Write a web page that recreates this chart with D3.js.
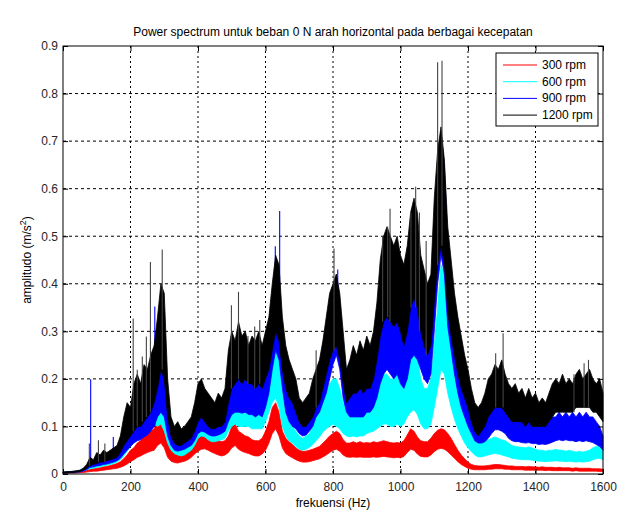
<!DOCTYPE html>
<html>
<head>
<meta charset="utf-8">
<script src="https://cdn.jsdelivr.net/npm/d3@7"></script>
<style>
  body { margin: 0; background: #fff; }
  text { font-family: "Liberation Sans", Arial, sans-serif; }
</style>
</head>
<body>
<div id="viz-container"></div>
<script>
// spectrum, every 10 Hz from 0 to 1600
// (hi = top of the noisy band, lo = bottom of it)
let freq = d3.range(0, 1601, 10);

let rpm300hi = [
  0.003,0.003,0.004,0.004,0.005,0.005,0.006,0.008,0.01,0.011,
  0.012,0.013,0.015,0.016,0.018,0.02,0.022,0.026,0.032,0.04,
  0.05,0.055,0.065,0.07,0.08,0.085,0.09,0.095,0.11,0.12,
  0.1,0.065,0.05,0.045,0.045,0.048,0.05,0.055,0.065,0.075,
  0.085,0.09,0.092,0.085,0.08,0.075,0.07,0.068,0.07,0.08,
  0.1,0.105,0.09,0.085,0.08,0.078,0.072,0.07,0.07,0.075,
  0.09,0.11,0.14,0.15,0.13,0.09,0.075,0.068,0.062,0.055,
  0.05,0.048,0.048,0.05,0.052,0.055,0.058,0.065,0.072,0.08,
  0.085,0.09,0.085,0.072,0.065,0.065,0.068,0.065,0.068,0.065,
  0.066,0.065,0.068,0.066,0.068,0.07,0.068,0.066,0.065,0.066,
  0.065,0.07,0.082,0.095,0.09,0.078,0.07,0.068,0.068,0.075,
  0.085,0.092,0.095,0.093,0.085,0.075,0.062,0.05,0.04,0.032,
  0.025,0.02,0.018,0.017,0.017,0.017,0.018,0.019,0.02,0.02,
  0.019,0.018,0.017,0.017,0.016,0.016,0.016,0.015,0.016,0.015,
  0.015,0.014,0.015,0.014,0.014,0.014,0.013,0.014,0.013,0.013,
  0.013,0.012,0.013,0.012,0.012,0.012,0.012,0.011,0.011,0.011,
  0.01];
let rpm300lo = [
  0.001,0.001,0.002,0.002,0.002,0.003,0.003,0.004,0.005,0.006,
  0.006,0.007,0.008,0.009,0.01,0.011,0.012,0.014,0.017,0.021,
  0.026,0.03,0.035,0.038,0.042,0.045,0.048,0.05,0.06,0.065,
  0.055,0.035,0.027,0.024,0.023,0.025,0.027,0.03,0.035,0.042,
  0.048,0.052,0.053,0.05,0.046,0.043,0.04,0.038,0.04,0.045,
  0.055,0.06,0.052,0.048,0.045,0.043,0.04,0.038,0.038,0.042,
  0.05,0.065,0.085,0.095,0.08,0.055,0.043,0.038,0.034,0.03,
  0.027,0.025,0.025,0.026,0.028,0.03,0.032,0.036,0.04,0.045,
  0.05,0.052,0.048,0.04,0.036,0.035,0.036,0.035,0.036,0.035,
  0.035,0.035,0.036,0.035,0.036,0.037,0.036,0.035,0.034,0.035,
  0.034,0.037,0.045,0.052,0.05,0.042,0.037,0.036,0.036,0.04,
  0.047,0.052,0.054,0.052,0.047,0.04,0.033,0.026,0.02,0.016,
  0.012,0.01,0.009,0.009,0.009,0.009,0.01,0.01,0.011,0.011,
  0.011,0.01,0.01,0.009,0.009,0.009,0.009,0.008,0.008,0.008,
  0.008,0.008,0.008,0.007,0.008,0.007,0.007,0.007,0.007,0.007,
  0.007,0.006,0.007,0.006,0.006,0.006,0.006,0.006,0.006,0.005,
  0.005];

let rpm600hi = [
  0.004,0.004,0.005,0.005,0.006,0.008,0.012,0.015,0.02,0.022,
  0.025,0.026,0.03,0.03,0.035,0.04,0.045,0.055,0.07,0.09,
  0.11,0.13,0.16,0.15,0.19,0.18,0.2,0.21,0.2,0.21,
  0.18,0.12,0.09,0.075,0.07,0.065,0.07,0.075,0.08,0.1,
  0.12,0.13,0.12,0.11,0.1,0.1,0.105,0.11,0.11,0.14,
  0.16,0.17,0.16,0.17,0.16,0.16,0.15,0.15,0.15,0.15,
  0.17,0.22,0.27,0.28,0.24,0.17,0.13,0.11,0.1,0.09,
  0.08,0.075,0.08,0.085,0.1,0.12,0.13,0.15,0.17,0.19,
  0.2,0.2,0.18,0.15,0.14,0.15,0.16,0.15,0.16,0.16,
  0.17,0.17,0.18,0.19,0.2,0.21,0.21,0.2,0.2,0.21,
  0.2,0.21,0.24,0.26,0.27,0.25,0.2,0.18,0.18,0.2,
  0.27,0.35,0.44,0.42,0.32,0.27,0.22,0.18,0.15,0.12,
  0.1,0.085,0.075,0.065,0.065,0.07,0.072,0.075,0.078,0.075,
  0.072,0.07,0.065,0.06,0.058,0.057,0.056,0.055,0.057,0.055,
  0.052,0.05,0.05,0.048,0.05,0.05,0.052,0.05,0.05,0.048,
  0.05,0.048,0.046,0.048,0.046,0.048,0.05,0.055,0.058,0.06,
  0.055];
let rpm600lo = [
  0.002,0.002,0.003,0.003,0.004,0.005,0.007,0.009,0.011,0.012,
  0.014,0.015,0.017,0.018,0.02,0.022,0.025,0.03,0.038,0.048,
  0.058,0.068,0.08,0.082,0.09,0.095,0.1,0.105,0.1,0.105,
  0.09,0.065,0.05,0.043,0.04,0.038,0.04,0.045,0.05,0.06,
  0.075,0.08,0.078,0.072,0.068,0.068,0.07,0.072,0.075,0.09,
  0.1,0.105,0.1,0.1,0.1,0.1,0.095,0.095,0.095,0.095,
  0.11,0.13,0.15,0.16,0.14,0.1,0.08,0.07,0.065,0.058,
  0.052,0.05,0.052,0.056,0.062,0.07,0.078,0.088,0.095,0.1,
  0.105,0.1,0.095,0.085,0.08,0.078,0.08,0.078,0.08,0.08,
  0.085,0.088,0.09,0.095,0.1,0.105,0.105,0.1,0.1,0.105,
  0.1,0.105,0.12,0.13,0.135,0.125,0.105,0.095,0.095,0.105,
  0.14,0.18,0.22,0.21,0.17,0.14,0.115,0.095,0.08,0.065,
  0.055,0.047,0.04,0.036,0.036,0.038,0.04,0.042,0.043,0.042,
  0.04,0.038,0.036,0.033,0.032,0.031,0.03,0.03,0.03,0.029,
  0.028,0.027,0.027,0.026,0.027,0.027,0.028,0.027,0.027,0.026,
  0.027,0.026,0.025,0.026,0.025,0.026,0.027,0.03,0.032,0.033,
  0.03];

let rpm900hi = [
  0.004,0.004,0.005,0.005,0.006,0.007,0.01,0.015,0.03,0.025,
  0.03,0.03,0.035,0.035,0.04,0.045,0.05,0.06,0.08,0.1,
  0.11,0.14,0.15,0.14,0.17,0.16,0.2,0.24,0.28,0.3,
  0.26,0.15,0.1,0.085,0.08,0.08,0.085,0.09,0.1,0.13,
  0.17,0.18,0.16,0.14,0.13,0.13,0.14,0.14,0.15,0.19,
  0.22,0.21,0.22,0.21,0.22,0.2,0.21,0.2,0.21,0.2,
  0.23,0.28,0.36,0.4,0.38,0.28,0.2,0.18,0.17,0.15,
  0.13,0.12,0.13,0.14,0.17,0.2,0.22,0.26,0.3,0.34,
  0.38,0.42,0.36,0.25,0.19,0.19,0.2,0.19,0.2,0.19,
  0.21,0.2,0.22,0.26,0.32,0.34,0.35,0.33,0.32,0.33,
  0.3,0.28,0.32,0.38,0.4,0.37,0.34,0.32,0.3,0.33,
  0.5,0.63,0.72,0.65,0.48,0.4,0.32,0.27,0.22,0.19,
  0.16,0.14,0.11,0.1,0.1,0.11,0.12,0.14,0.16,0.15,
  0.16,0.14,0.12,0.12,0.11,0.12,0.11,0.11,0.12,0.11,
  0.11,0.1,0.11,0.1,0.11,0.12,0.12,0.13,0.12,0.13,
  0.12,0.13,0.12,0.13,0.12,0.13,0.12,0.12,0.11,0.1,
  0.08];
let rpm900lo = [
  0.002,0.002,0.003,0.003,0.004,0.004,0.006,0.009,0.014,0.015,
  0.017,0.018,0.02,0.021,0.023,0.025,0.028,0.033,0.042,0.05,
  0.058,0.065,0.07,0.072,0.078,0.082,0.09,0.1,0.12,0.13,
  0.12,0.08,0.06,0.05,0.048,0.05,0.052,0.056,0.06,0.07,
  0.085,0.09,0.088,0.083,0.08,0.08,0.082,0.085,0.09,0.11,
  0.125,0.13,0.13,0.128,0.13,0.125,0.125,0.12,0.125,0.12,
  0.14,0.17,0.22,0.26,0.24,0.18,0.13,0.11,0.1,0.095,
  0.085,0.08,0.082,0.09,0.1,0.12,0.13,0.15,0.17,0.2,
  0.23,0.25,0.22,0.16,0.13,0.12,0.12,0.12,0.12,0.12,
  0.13,0.13,0.14,0.16,0.19,0.21,0.22,0.21,0.2,0.21,
  0.19,0.18,0.2,0.24,0.25,0.24,0.22,0.2,0.19,0.21,
  0.3,0.4,0.46,0.42,0.31,0.26,0.21,0.17,0.14,0.12,
  0.1,0.085,0.07,0.065,0.065,0.068,0.075,0.085,0.093,0.093,
  0.09,0.085,0.075,0.07,0.068,0.068,0.066,0.065,0.066,0.064,
  0.064,0.062,0.063,0.062,0.064,0.067,0.07,0.072,0.07,0.072,
  0.07,0.07,0.068,0.07,0.068,0.07,0.068,0.066,0.062,0.058,
  0.05];

let rpm1200hi = [
  0.004,0.005,0.005,0.006,0.007,0.008,0.012,0.02,0.035,0.03,
  0.045,0.04,0.05,0.045,0.05,0.055,0.06,0.08,0.12,0.15,
  0.14,0.19,0.21,0.19,0.23,0.22,0.25,0.27,0.33,0.4,
  0.38,0.2,0.12,0.1,0.11,0.095,0.1,0.11,0.12,0.15,
  0.19,0.2,0.18,0.17,0.16,0.15,0.17,0.16,0.18,0.26,
  0.3,0.28,0.32,0.29,0.3,0.27,0.29,0.28,0.3,0.27,
  0.3,0.33,0.4,0.46,0.44,0.33,0.27,0.24,0.22,0.2,
  0.16,0.15,0.16,0.17,0.2,0.22,0.24,0.28,0.33,0.38,
  0.4,0.42,0.38,0.3,0.22,0.24,0.27,0.25,0.28,0.26,
  0.29,0.27,0.3,0.36,0.45,0.5,0.52,0.5,0.48,0.5,
  0.46,0.44,0.48,0.55,0.58,0.55,0.46,0.43,0.4,0.42,
  0.58,0.68,0.73,0.66,0.52,0.45,0.38,0.33,0.29,0.25,
  0.22,0.18,0.15,0.14,0.15,0.17,0.2,0.21,0.23,0.22,
  0.24,0.21,0.19,0.18,0.19,0.17,0.18,0.16,0.18,0.16,
  0.17,0.15,0.16,0.15,0.17,0.19,0.2,0.19,0.21,0.19,
  0.2,0.19,0.21,0.22,0.2,0.21,0.22,0.2,0.19,0.2,
  0.17];
let rpm1200lo = [
  0.002,0.002,0.003,0.003,0.004,0.005,0.008,0.012,0.018,0.02,
  0.022,0.025,0.025,0.028,0.03,0.032,0.035,0.045,0.06,0.07,
  0.08,0.09,0.1,0.1,0.11,0.12,0.13,0.15,0.18,0.22,
  0.2,0.12,0.08,0.065,0.06,0.06,0.065,0.07,0.075,0.09,
  0.11,0.12,0.11,0.1,0.095,0.095,0.1,0.1,0.11,0.15,
  0.18,0.19,0.2,0.19,0.2,0.19,0.19,0.18,0.19,0.18,
  0.2,0.22,0.26,0.3,0.28,0.22,0.18,0.16,0.15,0.13,
  0.11,0.1,0.1,0.11,0.12,0.14,0.15,0.18,0.21,0.24,
  0.26,0.27,0.24,0.19,0.15,0.16,0.17,0.17,0.18,0.17,
  0.18,0.18,0.2,0.24,0.29,0.32,0.33,0.32,0.31,0.32,
  0.3,0.27,0.3,0.35,0.37,0.35,0.3,0.27,0.25,0.27,
  0.36,0.44,0.48,0.44,0.34,0.29,0.25,0.21,0.18,0.16,
  0.14,0.11,0.09,0.08,0.09,0.1,0.12,0.13,0.14,0.14,
  0.14,0.13,0.12,0.11,0.11,0.11,0.11,0.1,0.11,0.1,
  0.1,0.1,0.1,0.1,0.11,0.12,0.13,0.13,0.13,0.13,
  0.13,0.13,0.14,0.14,0.14,0.14,0.14,0.13,0.13,0.12,
  0.11];

// single tall spikes sticking out of the bands: [Hz, value]
let spikes900 = [[82,0.199],[149,0.078],[272,0.352],[629,0.479],[642,0.553],[814,0.43]];
let spikes1200 = [[78,0.064],[105,0.071],[124,0.064],[208,0.327],[220,0.219],
  [235,0.247],[247,0.289],[259,0.446],[294,0.472],[499,0.355],[520,0.383],
  [548,0.29],[568,0.31],[583,0.324],[750,0.26],[803,0.474],[947,0.5],
  [962,0.52],[969,0.558],[1031,0.55],[1045,0.604],[1056,0.55],[1076,0.49],
  [1110,0.866],[1123,0.869],[1282,0.254],[1304,0.296],[1514,0.21],[1544,0.233],
  [1557,0.24]];

let seriesNames = ["300 rpm", "600 rpm", "900 rpm", "1200 rpm"];
let seriesColors = ["#ff0000", "#00ffff", "#0000ff", "#000000"];
let xTicks = [0, 200, 400, 600, 800, 1000, 1200, 1400, 1600];
let yTicks = [0, 0.1, 0.2, 0.3, 0.4, 0.5, 0.6, 0.7, 0.8, 0.9];

let w = 633, h = 522;
let mLeft = 63, mRight = 603, mTop = 46, mBottom = 474;

let viz = d3.select("#viz-container")
  .append("svg")
    .attr("width", w)
    .attr("height", h);

let x = d3.scaleLinear().domain([0, 1600]).range([mLeft, mRight]);
let y = d3.scaleLinear().domain([0, 0.9]).range([mBottom, mTop]);

// grid (dotted, like matlab "grid on")
viz.append("g").selectAll("line").data(xTicks.slice(1, -1)).enter().append("line")
  .attr("x1", d => x(d)).attr("x2", d => x(d))
  .attr("y1", mTop).attr("y2", mBottom)
  .attr("stroke", "#000").attr("stroke-width", 1)
  .attr("stroke-dasharray", "2,3");
viz.append("g").selectAll("line").data(yTicks.slice(1, -1)).enter().append("line")
  .attr("x1", mLeft).attr("x2", mRight)
  .attr("y1", d => y(d)).attr("y2", d => y(d))
  .attr("stroke", "#000").attr("stroke-width", 1)
  .attr("stroke-dasharray", "3,3");

let bands = [
  {lo: rpm300lo, hi: rpm300hi},
  {lo: rpm600lo, hi: rpm600hi},
  {lo: rpm900lo, hi: rpm900hi},
  {lo: rpm1200lo, hi: rpm1200hi}
];

let plot = viz.append("g");

bands.forEach((b, k) => {
  let area = d3.area()
    .x((d, i) => x(freq[i]))
    .y0((d, i) => y(b.lo[i]))
    .y1((d, i) => y(b.hi[i]));
  plot.append("path")
    .attr("d", area(b.hi))
    .attr("fill", seriesColors[k])
    .attr("stroke", seriesColors[k])
    .attr("stroke-width", 0.8)
    .attr("stroke-linejoin", "bevel");

  let sp = k == 2 ? spikes900 : (k == 3 ? spikes1200 : []);
  plot.append("g").selectAll("line").data(sp).enter().append("line")
    .attr("x1", d => x(d[0])).attr("x2", d => x(d[0]))
    .attr("y1", d => y(b.lo[Math.round(d[0] / 10)]))
    .attr("y2", d => y(d[1]))
    .attr("stroke", k == 3 ? "#444" : seriesColors[k])
    .attr("stroke-width", 1.1);
});

// axes box
viz.append("rect")
  .attr("x", mLeft).attr("y", mTop)
  .attr("width", mRight - mLeft).attr("height", mBottom - mTop)
  .attr("fill", "none").attr("stroke", "#000").attr("stroke-width", 1);

let xAxis = d3.axisBottom(x).tickValues(xTicks).tickSize(-5).tickFormat(d3.format("d"));
let xAxisTop = d3.axisTop(x).tickValues(xTicks).tickSize(-5).tickFormat("");
let yAxis = d3.axisLeft(y).tickValues(yTicks).tickSize(-5).tickFormat(d => d == 0 ? "0" : d3.format(".1f")(d));
let yAxisRight = d3.axisRight(y).tickValues(yTicks).tickSize(-5).tickFormat("");

function styleAxis(g) {
  g.select(".domain").remove();
  g.selectAll("line").attr("stroke", "#000");
  g.selectAll("text").attr("fill", "#262626").style("font-size", "12px");
}

viz.append("g").attr("transform", "translate(0," + mBottom + ")").call(xAxis).call(styleAxis)
  .selectAll("text").attr("y", 6).attr("dy", "0.9em");
viz.append("g").attr("transform", "translate(0," + mTop + ")").call(xAxisTop).call(styleAxis);
viz.append("g").attr("transform", "translate(" + mLeft + ",0)").call(yAxis).call(styleAxis)
  .selectAll("text").attr("x", -5);
viz.append("g").attr("transform", "translate(" + mRight + ",0)").call(yAxisRight).call(styleAxis);

// title and labels
viz.append("text")
  .attr("x", (mLeft + mRight) / 2).attr("y", 36)
  .attr("text-anchor", "middle")
  .style("font-size", "12px")
  .text("Power spectrum untuk beban 0 N arah horizontal pada berbagai kecepatan");

viz.append("text")
  .attr("x", (mLeft + mRight) / 2).attr("y", 507)
  .attr("text-anchor", "middle")
  .style("font-size", "12px")
  .text("frekuensi (Hz)");

let ylab = viz.append("text")
  .attr("transform", "translate(31," + (mTop + mBottom) / 2 + ") rotate(-90)")
  .attr("text-anchor", "middle")
  .style("font-size", "12px");
ylab.append("tspan").text("amplitudo (m/s");
ylab.append("tspan").attr("dy", -5).style("font-size", "9px").text("2");
ylab.append("tspan").attr("dy", 5).text(")");

// legend
let legend = viz.append("g");
legend.append("rect")
  .attr("x", 496).attr("y", 53).attr("width", 102).attr("height", 73)
  .attr("fill", "#fff").attr("stroke", "#000").attr("stroke-width", 1);
seriesNames.forEach((name, i) => {
  let ly = 65 + i * 16.7;
  legend.append("line")
    .attr("x1", 503).attr("x2", 537).attr("y1", ly).attr("y2", ly)
    .attr("stroke", seriesColors[i]).attr("stroke-width", 1);
  legend.append("text")
    .attr("x", 542).attr("y", ly + 4)
    .style("font-size", "12px")
    .text(name);
});
</script>
</body>
</html>
